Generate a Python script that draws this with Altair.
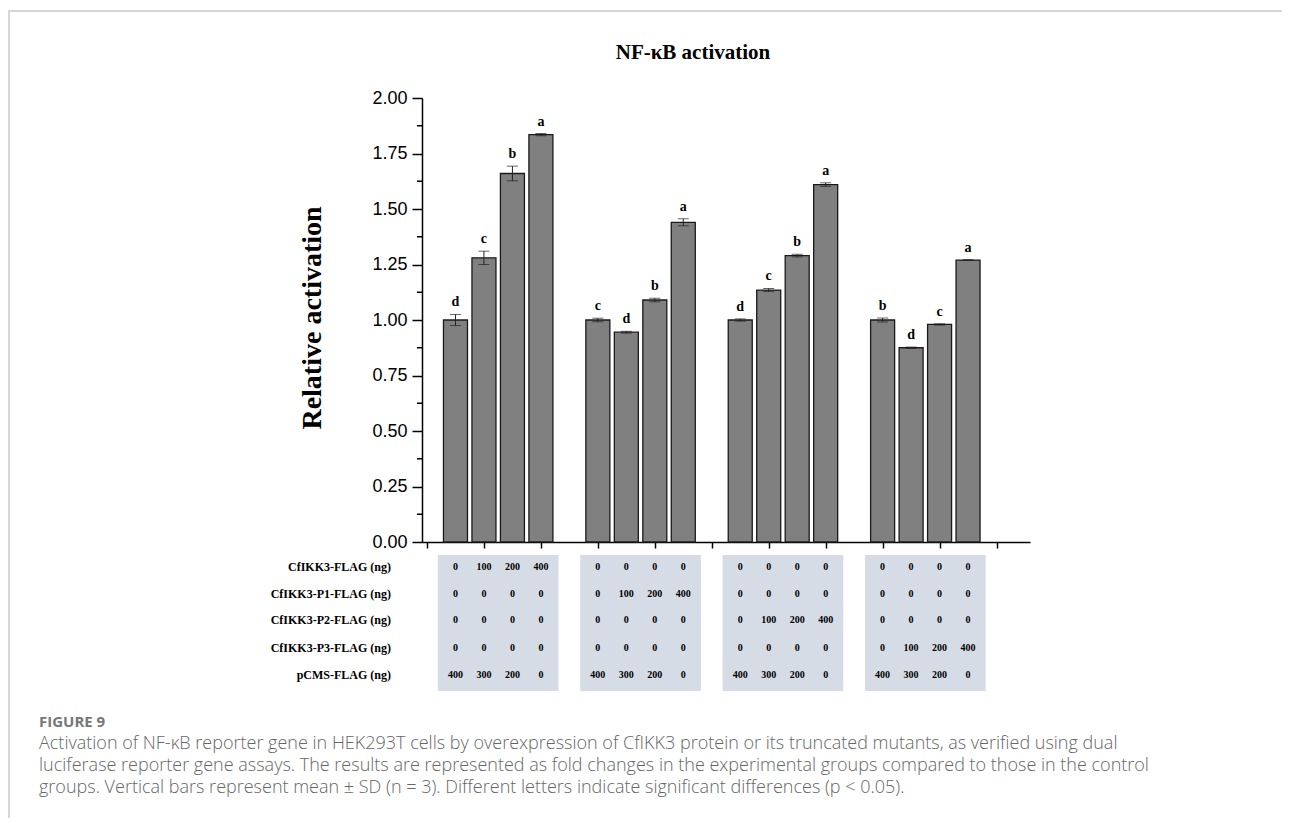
import altair as alt
import pandas as pd

# ---------------- data ----------------
means = [1.00, 1.28, 1.66, 1.835,
         1.00, 0.945, 1.09, 1.44,
         1.00, 1.135, 1.29, 1.61,
         1.00, 0.875, 0.98, 1.27]
sds = [0.025, 0.03, 0.033, 0.005,
       0.008, 0.004, 0.008, 0.016,
       0.005, 0.007, 0.006, 0.008,
       0.009, 0.003, 0.003, 0.002]
letters = ["d", "c", "b", "a",
           "c", "d", "b", "a",
           "d", "c", "b", "a",
           "b", "d", "c", "a"]

row_labels = ["CfIKK3-FLAG (ng)", "CfIKK3-P1-FLAG (ng)", "CfIKK3-P2-FLAG (ng)",
              "CfIKK3-P3-FLAG (ng)", "pCMS-FLAG (ng)"]
row_cfikk3 = [0, 100, 200, 400, 0, 0, 0, 0, 0, 0, 0, 0, 0, 0, 0, 0]
row_p1 = [0, 0, 0, 0, 0, 100, 200, 400, 0, 0, 0, 0, 0, 0, 0, 0]
row_p2 = [0, 0, 0, 0, 0, 0, 0, 0, 0, 100, 200, 400, 0, 0, 0, 0]
row_p3 = [0, 0, 0, 0, 0, 0, 0, 0, 0, 0, 0, 0, 0, 100, 200, 400]
row_pcms = [400, 300, 200, 0, 400, 300, 200, 0, 400, 300, 200, 0, 400, 300, 200, 0]

y_ticks = [0, 0.25, 0.5, 0.75, 1.0, 1.25, 1.5, 1.75, 2.0]
y_minor = [0.125, 0.375, 0.625, 0.875, 1.125, 1.375, 1.625, 1.875]

title_text = "NF-κB activation"
y_title = "Relative activation"
fig_label = "FIGURE 9"
caption_lines = [
    "Activation of NF-κB reporter gene in HEK293T cells by overexpression of CfIKK3 protein or its truncated mutants, as verified using dual",
    "luciferase reporter gene assays. The results are represented as fold changes in the experimental groups compared to those in the control",
    "groups. Vertical bars represent mean ± SD (n = 3). Different letters indicate significant differences (p < 0.05).",
]

# ---------------- tables ----------------
n_groups, per_group = 4, 4
pos = [g * (per_group + 1) + i + 1 for g in range(n_groups) for i in range(per_group)]
df = pd.DataFrame({"pos": pos, "mean": means, "sd": sds, "letter": letters})
df["lo"] = df["mean"] - df["sd"]
df["hi"] = df["mean"] + df["sd"]

box_df = pd.DataFrame({
    "x0": [pos[g * per_group] - 0.62 for g in range(n_groups)],
    "x1": [pos[g * per_group + per_group - 1] + 0.62 for g in range(n_groups)],
})

SERIF = "Liberation Serif"
SANS = "Liberation Sans"

xscale = alt.Scale(domain=[0, 21], nice=False, zero=False)
yscale = alt.Scale(domain=[0, 2], nice=False)


def X(field):
    return alt.X(field, scale=xscale, title=None)


def Y(field):
    return alt.Y(field, scale=yscale, title=None)


bars = alt.Chart(df).mark_bar(width=24, color="#808080", stroke="#1a1a1a", strokeWidth=1.3).encode(
    x=alt.X("pos:Q", scale=xscale,
            axis=alt.Axis(values=list(range(22)), labels=False, tickSize=6, title=None)),
    y=alt.Y("mean:Q", scale=yscale,
            axis=alt.Axis(values=y_ticks, format=".2f", tickSize=10, title=None,
                          labelFont=SANS, labelFontSize=18, labelPadding=5)),
)

err = alt.Chart(df).mark_rule(color="#222", strokeWidth=1).encode(
    x=X("pos:Q"), y=Y("lo:Q"), y2="hi:Q",
)
cap_lo = alt.Chart(df).mark_tick(orient="horizontal", size=11, thickness=1, color="#222").encode(
    x=X("pos:Q"), y=Y("lo:Q"),
)
cap_hi = alt.Chart(df).mark_tick(orient="horizontal", size=11, thickness=1, color="#222").encode(
    x=X("pos:Q"), y=Y("hi:Q"),
)
letter_layer = alt.Chart(df).mark_text(dy=-8, baseline="alphabetic", font=SERIF,
                                       fontWeight="bold", fontSize=14, color="black").encode(
    x=X("pos:Q"), y=Y("hi:Q"), text="letter:N",
)

minor = alt.Chart(pd.DataFrame({"v": y_minor})).mark_rule(color="black", strokeWidth=1.5).encode(
    y=Y("v:Q"), x=alt.value(-5), x2=alt.value(0),
)

boxes = alt.Chart(box_df).mark_rect(color="#d6dce5").encode(
    x=X("x0:Q"), x2="x1:Q", y=alt.value(457), y2=alt.value(593),
)

row_values = [row_cfikk3, row_p1, row_p2, row_p3, row_pcms]
row_y = [468.5, 495.5, 522, 549.5, 577]
table_layers = []
for vals, ry, lab in zip(row_values, row_y, row_labels):
    tdf = pd.DataFrame({"pos": pos, "val": [str(v) for v in vals]})
    table_layers.append(
        alt.Chart(tdf).mark_text(font=SERIF, fontWeight="bold", fontSize=10, color="black",
                                 baseline="middle").encode(
            x=X("pos:Q"), y=alt.value(ry), text="val:N",
        )
    )
    table_layers.append(
        alt.Chart(pd.DataFrame({"t": [lab]})).mark_text(font=SERIF, fontWeight="bold", fontSize=12,
                                                         color="black", align="right",
                                                         baseline="middle").encode(
            x=alt.value(-31), y=alt.value(ry), text="t:N",
        )
    )

title_layer = alt.Chart(pd.DataFrame({"t": [title_text]})).mark_text(
    font=SERIF, fontWeight="bold", fontSize=21, color="black", align="center", baseline="alphabetic"
).encode(x=alt.value(271), y=alt.value(-39), text="t:N")

ytitle_layer = alt.Chart(pd.DataFrame({"t": [y_title]})).mark_text(
    font=SERIF, fontWeight="bold", fontSize=28, color="black", align="center", baseline="middle", angle=270
).encode(x=alt.value(-109), y=alt.value(220), text="t:N")

frame_top = alt.Chart(pd.DataFrame({"a": [0]})).mark_rule(color="#d6d6d6", strokeWidth=2).encode(
    x=alt.value(-413), x2=alt.value(870), y=alt.value(-87))
frame_left = alt.Chart(pd.DataFrame({"a": [0]})).mark_rule(color="#d6d6d6", strokeWidth=2).encode(
    x=alt.value(-413), y=alt.value(-88), y2=alt.value(722))

fig_layer = alt.Chart(pd.DataFrame({"t": [fig_label]})).mark_text(
    font="Open Sans", fontWeight="bold", fontSize=15, color="#777777", align="left", baseline="alphabetic"
).encode(x=alt.value(-383), y=alt.value(629), text="t:N")

cap_layers = []
for i, line in enumerate(caption_lines):
    cap_layers.append(
        alt.Chart(pd.DataFrame({"t": [line]})).mark_text(
            font="Open Sans", fontSize=18, fontWeight=300, color="#666666", align="left",
            baseline="alphabetic"
        ).encode(x=alt.value(-383), y=alt.value(651 + 21.8 * i), text="t:N")
    )

chart = alt.layer(
    frame_top, frame_left, boxes, bars, err, cap_lo, cap_hi, letter_layer, minor,
    *table_layers, title_layer, ytitle_layer, fig_layer, *cap_layers
).properties(
    width=608, height=444,
    padding={"left": 414, "top": 90, "right": 252, "bottom": 276},
    autosize="none",
    background="white",
).configure_view(stroke=None).configure_axis(
    domainColor="black", tickColor="black", domainWidth=1.5, tickWidth=1.5,
    labelColor="black", grid=False,
)

chart.save("out.html", embed_options={"renderer": "svg", "actions": False})
